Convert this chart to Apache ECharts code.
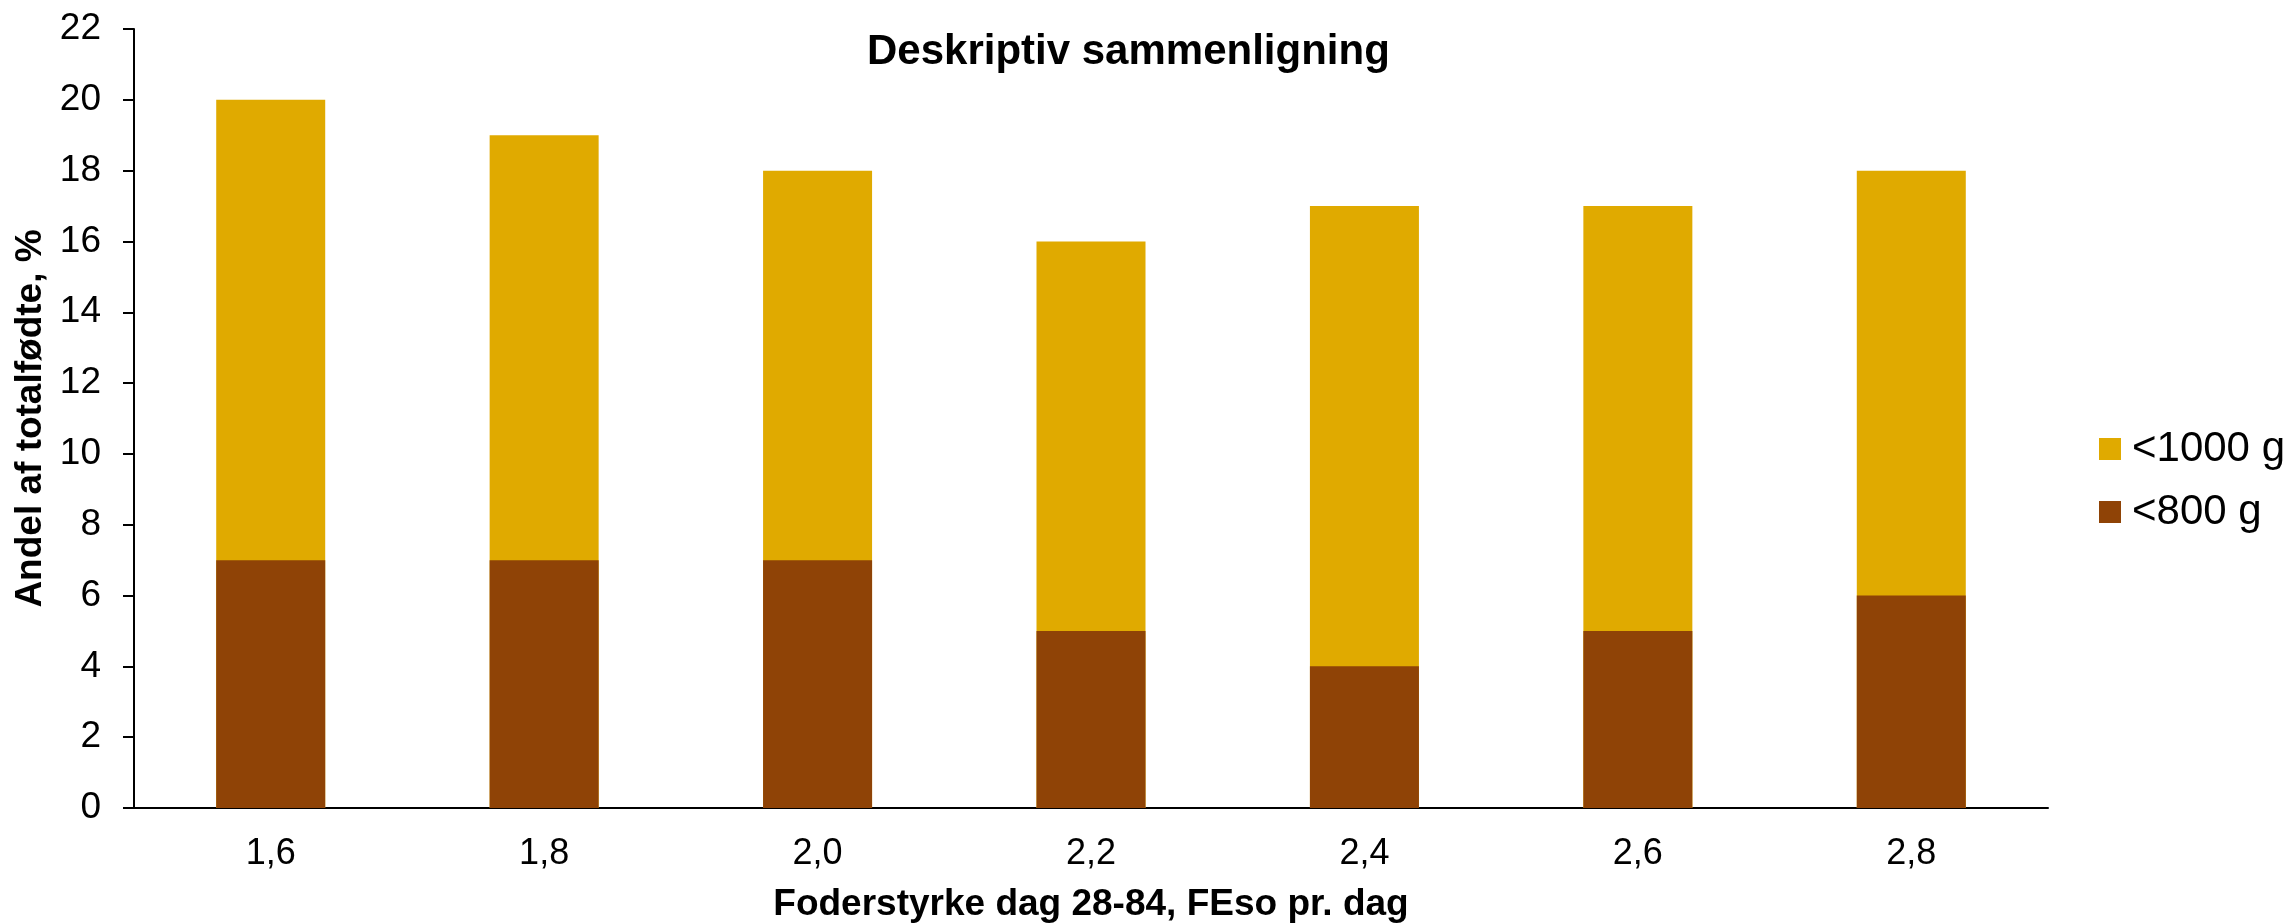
<!DOCTYPE html>
<html>
<head>
<meta charset="utf-8">
<title>Deskriptiv sammenligning</title>
<script src="https://cdn.jsdelivr.net/npm/echarts@6/dist/echarts.min.js"></script>
<style>
  html, body { margin: 0; padding: 0; background: #fff; }
  #chart { width: 2284px; height: 923px; }
</style>
</head>
<body>
<div id="chart"></div>
<script>
  // Foderstyrke (FEso pr. dag)
  const categories = ['1,6', '1,8', '2,0', '2,2', '2,4', '2,6', '2,8']
  // andel af totalfødte, %
  const under1000 = [20, 19, 18, 16, 17, 17, 18]
  const under800 = [7, 7, 7, 5, 4, 5, 6]
  const yTicks = [0, 2, 4, 6, 8, 10, 12, 14, 16, 18, 20, 22]

  const font = 'Liberation Sans, Arial, sans-serif'

  let chart = echarts.init(document.getElementById('chart'))

  let option = {
    backgroundColor: '#fff',
    animation: false,
    title: {
      text: 'Deskriptiv sammenligning',
      left: 862,
      top: 26,
      textStyle: {
        fontFamily: font,
        fontSize: 42,
        fontWeight: 'bold',
        color: '#000'
      }
    },
    legend: {
      orient: 'vertical',
      left: 2094,
      top: 423,
      itemWidth: 22,
      itemHeight: 22,
      itemGap: 21,
      icon: 'rect',
      data: ['<1000 g', '<800 g'],
      textStyle: {
        fontFamily: font,
        fontSize: 42,
        color: '#000',
        padding: [0, 0, 0, 6]
      }
    },
    grid: {
      left: 134,
      right: 236,
      top: 29,
      bottom: 115,
      containLabel: false,
      outerBoundsMode: 'none'
    },
    xAxis: {
      type: 'category',
      data: categories,
      name: 'Foderstyrke dag 28-84, FEso pr. dag',
      nameLocation: 'middle',
      nameGap: 78,
      nameTextStyle: {
        fontFamily: font,
        fontSize: 37,
        fontWeight: 'bold',
        color: '#000'
      },
      axisLine: { lineStyle: { color: '#000', width: 2 } },
      axisTick: { show: false },
      axisLabel: {
        fontFamily: font,
        fontSize: 36,
        color: '#000',
        margin: 28
      }
    },
    yAxis: {
      type: 'value',
      min: yTicks[0],
      max: yTicks[yTicks.length - 1],
      interval: yTicks[1] - yTicks[0],
      name: 'Andel af totalfødte, %',
      nameLocation: 'middle',
      nameGap: 81,
      nameTextStyle: {
        fontFamily: font,
        fontSize: 37,
        fontWeight: 'bold',
        color: '#000'
      },
      axisLine: { show: true, lineStyle: { color: '#000', width: 2 } },
      axisTick: { show: true, length: 11, lineStyle: { color: '#000', width: 2 } },
      splitLine: { show: false },
      axisLabel: {
        fontFamily: font,
        fontSize: 37,
        color: '#000',
        margin: 33
      }
    },
    series: [
      {
        name: '<1000 g',
        type: 'bar',
        data: under1000,
        barWidth: 109,
        barGap: '-100%',
        itemStyle: { color: '#E0AA00' }
      },
      {
        name: '<800 g',
        type: 'bar',
        data: under800,
        barWidth: 109,
        barGap: '-100%',
        itemStyle: { color: '#8F4306' }
      }
    ]
  }

  chart.setOption(option)
</script>
</body>
</html>
